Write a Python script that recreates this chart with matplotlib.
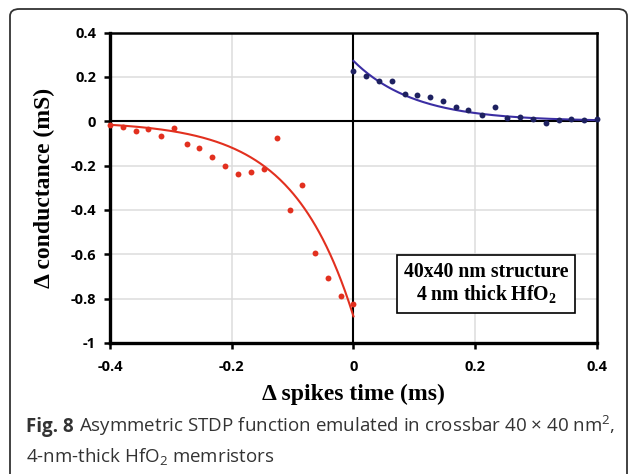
import numpy as np
import matplotlib
matplotlib.use("Agg")
import matplotlib.pyplot as plt
from matplotlib.patches import FancyBboxPatch

# depression branch (negative delay), measured points
t_neg = [-0.400, -0.379, -0.358, -0.337, -0.316, -0.295, -0.274, -0.253, -0.232, -0.211,
         -0.189, -0.168, -0.147, -0.126, -0.105, -0.084, -0.063, -0.042, -0.021, 0.000]
g_neg = [-0.018, -0.024, -0.045, -0.033, -0.065, -0.029, -0.104, -0.123, -0.160, -0.203,
         -0.239, -0.229, -0.214, -0.075, -0.399, -0.289, -0.595, -0.707, -0.786, -0.822]

# potentiation branch (positive delay), measured points
t_pos = [0.000, 0.021, 0.042, 0.063, 0.084, 0.105, 0.126, 0.147, 0.168, 0.189,
         0.211, 0.232, 0.253, 0.274, 0.295, 0.316, 0.337, 0.358, 0.379, 0.400]
g_pos = [0.228, 0.204, 0.181, 0.181, 0.125, 0.116, 0.110, 0.093, 0.066, 0.050,
         0.030, 0.066, 0.014, 0.020, 0.012, -0.006, 0.005, 0.011, 0.005, 0.009]

# exponential fits: amplitude, time constant (ms)
fit_neg = (-0.88, 0.10)
fit_pos = (0.272, 0.10)

x_ticks = [-0.4, -0.2, 0, 0.2, 0.4]
x_ticklabels = ["-0.4", "-0.2", "0", "0.2", "0.4"]
y_ticks = [-1, -0.8, -0.6, -0.4, -0.2, 0, 0.2, 0.4]
y_ticklabels = ["-1", "-0.8", "-0.6", "-0.4", "-0.2", "0", "0.2", "0.4"]

red = "#e2301f"
navy = "#1e2160"
purple = "#3b2ea3"

plt.rcParams["mathtext.fontset"] = "custom"
plt.rcParams["mathtext.bf"] = "Liberation Serif:bold"
plt.rcParams["mathtext.rm"] = "Open Sans"

fig = plt.figure(figsize=(6.29, 4.74), dpi=100)

# rounded journal frame
frame = FancyBboxPatch((10 / 629, -8 / 474), 617 / 629, 473 / 474,
                       boxstyle="round,pad=0,rounding_size=0.015",
                       transform=fig.transFigure, fill=False,
                       edgecolor="#333333", linewidth=1.3)
fig.patches.append(frame)

ax = fig.add_axes([0.1749, 0.2764, 0.949 - 0.1749, 0.9314 - 0.2764])

ax.set_xlim(-0.4, 0.4)
ax.set_ylim(-1, 0.4)

for v in [-0.2, 0.2]:
    ax.axvline(v, color="#dcdcdc", lw=1.1, zorder=0)
for v in [-0.8, -0.6, -0.4, -0.2, 0.2]:
    ax.axhline(v, color="#dcdcdc", lw=1.1, zorder=0)
ax.axhline(0, color="black", lw=1.5, zorder=1)
ax.axvline(0, color="black", lw=1.5, zorder=1)

tn = np.linspace(-0.4, 0, 200)
tp = np.linspace(0, 0.4, 200)
ax.plot(tn, fit_neg[0] * np.exp(tn / fit_neg[1]), color=red, lw=1.5, zorder=2)
ax.plot(tp, fit_pos[0] * np.exp(-tp / fit_pos[1]), color=purple, lw=1.5, zorder=2)

ax.scatter(t_neg, g_neg, s=18, color=red, zorder=3, clip_on=False, linewidths=0)
ax.scatter(t_pos, g_pos, s=18, color=navy, zorder=3, clip_on=False, linewidths=0)

ax.set_xticks(x_ticks)
ax.set_xticklabels(x_ticklabels)
ax.set_yticks(y_ticks)
ax.set_yticklabels(y_ticklabels)
ax.tick_params(direction="out", length=4, width=1.8, pad=6)
for lab in ax.get_xticklabels() + ax.get_yticklabels():
    lab.set_fontfamily("Open Sans")
    lab.set_fontweight("bold")
    lab.set_fontsize(10.5)
ax.tick_params(axis="x", pad=8)

for side in ["left", "bottom"]:
    ax.spines[side].set_linewidth(2.4)
for side in ["top", "right"]:
    ax.spines[side].set_linewidth(1.8)

ax.set_xlabel("Δ spikes time (ms)", fontfamily="Liberation Serif", fontweight="bold",
              fontsize=17, labelpad=7)
ax.set_ylabel("Δ conductance (mS)", fontfamily="Liberation Serif", fontweight="bold",
              fontsize=17, labelpad=11)

ax.text(0.218, -0.734, "40x40 nm structure\n4 nm thick HfO$_\\mathbf{2}$",
        fontfamily="Liberation Serif", fontweight="bold", fontsize=14.2,
        ha="center", va="center", linespacing=1.15,
        bbox=dict(boxstyle="square,pad=0.35", facecolor="white", edgecolor="black", lw=1.2),
        zorder=5)

# caption below the chart (baselines)
cap_y1 = 1 - 432 / 474
cap_y2 = 1 - 463 / 474
fig_lab = fig.text(26 / 629, cap_y1, "Fig. 8", fontfamily="Open Sans", fontweight="bold",
                   fontsize=13.5, color="#333333", va="baseline")
fig.canvas.draw()
bb = fig_lab.get_window_extent().transformed(fig.transFigure.inverted())
fig.text(bb.x1 + 5 / 629, cap_y1, "Asymmetric STDP function emulated in crossbar 40 × 40 nm$^2$,",
         fontfamily="Open Sans", fontsize=13.5, color="#333333", va="baseline")
fig.text(26 / 629, cap_y2, "4-nm-thick HfO$_2$ memristors",
         fontfamily="Open Sans", fontsize=13.5, color="#333333", va="baseline")

fig.savefig("out.png", dpi=100)
